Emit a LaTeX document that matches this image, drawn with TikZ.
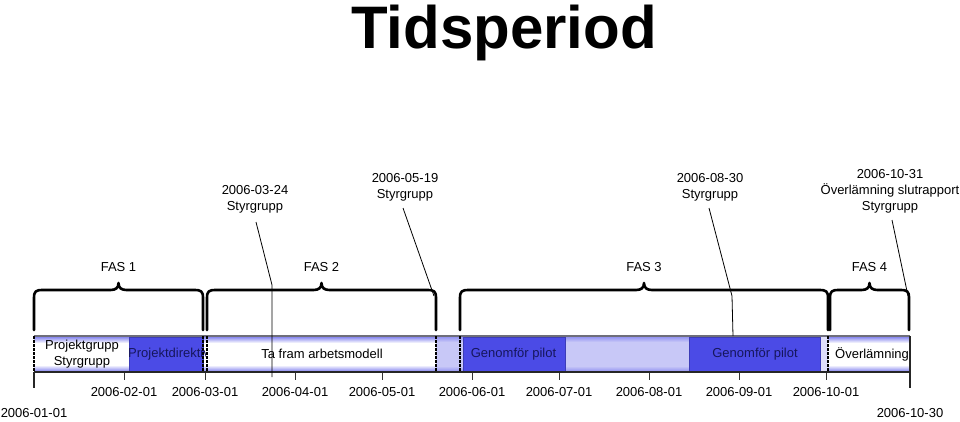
\documentclass[tikz,border=0pt]{standalone}
\usepackage{fontspec}
\setmainfont{Liberation Sans}
\definecolor{darkblk}{HTML}{4B4BE6}
\definecolor{lav}{HTML}{C8C8F7}
\definecolor{bandblue}{HTML}{8A8AF0}
\definecolor{navy}{HTML}{16165C}
\definecolor{barline}{HTML}{6E6E7A}
\newcommand\fasbrace[4]{%
  \pgfmathsetmacro\xm{(#1+#2)/2}%
  \draw[bracestyle] (#1,330) -- (#1,298) .. controls (#1,291) and ({#1+2},290) .. ({#1+9},290)
    -- ({\xm-8},290) .. controls ({\xm-3},290) and (\xm,288) .. (\xm,283)
    .. controls (\xm,288) and ({\xm+3},290) .. ({\xm+8},290)
    -- ({#2-9},290) .. controls ({#2-2},290) and (#2,291) .. (#2,298) -- (#2,330);
  \node[lbl] (#3) at (\xm,267) {#4};}
\begin{document}
\begin{tikzpicture}[x=1pt,y=-1pt,font=\fontsize{13}{16}\selectfont,
  lbl/.style={inner sep=0pt,align=center},
  bracestyle/.style={line width=2.6pt,line cap=round,line join=round},
  tickm/.style={line width=0.8pt,black!80},
  endtick/.style={line width=1.3pt,black!85},
  divline/.style={line width=1.1pt,dash pattern=on 2.5pt off 1.5pt},
  callout/.style={line width=0.8pt},
  blk/.style={fill=darkblk,draw=darkblk!80!black,line width=0.4pt},
  blktext/.style={lbl,text=navy}]
\useasboundingbox (0,0) rectangle (960,421);

% title
\node[inner sep=0pt,anchor=base,font=\fontsize{60}{60}\selectfont\bfseries] (title) at (504,48) {Tidsperiod};

% bar background
\fill[white] (34,336) rectangle (910,372);
\shade[top color=bandblue,bottom color=white] (34,337) rectangle (910,343);
\shade[top color=white,bottom color=bandblue] (34,365) rectangle (910,371);
\fill[lav] (436,336) rectangle (828,372);
\shade[top color=bandblue!80!lav,bottom color=lav] (436,337) rectangle (828,342);
\shade[top color=lav,bottom color=bandblue!80!lav] (436,366) rectangle (828,371);
\fill[lav!60!white] (820,337) rectangle (828,371);

% dark blocks
\draw[blk] (129,337) rectangle (203,371);
\draw[blk] (463,337) rectangle (565,371);
\draw[blk] (689,337) rectangle (820,371);

% bar outlines
\draw[barline,line width=1.1pt] (34,336) -- (910,336);
\draw[black!85,line width=1.1pt] (34,372) -- (910,372);

% dividers
\foreach \xx in {34,203,207,436,460,828}
  \draw[divline] (\xx,336) -- (\xx,372);

% bar texts
\node[lbl] (pg) at (82,354) {Projektgrupp\\Styrgrupp};
\begin{scope}
  \clip (129,336) rectangle (205.5,372);
  \node[blktext,anchor=west] (pd) at (128,354) {Projektdirektiv};
\end{scope}
\node[lbl] (ta) at (322,354) {Ta fram arbetsmodell};
\node[blktext] (gp1) at (513.5,354) {Genomför pilot};
\node[blktext] (gp2) at (755,354) {Genomför pilot};
\node[lbl] (ov) at (872,354) {Överlämning};

% ticks
\foreach \xx in {124,205,295,382,472,559,649,739,826}
  \draw[tickm] (\xx,373) -- (\xx,380);
\draw[endtick] (34,372) -- (34,388);
\draw[endtick] (910,336) -- (910,388);

% tick labels
\node[lbl] (d02) at (124,392) {2006-02-01};
\node[lbl] (d03) at (205,392) {2006-03-01};
\node[lbl] (d04) at (295,392) {2006-04-01};
\node[lbl] (d05) at (382,392) {2006-05-01};
\node[lbl] (d06) at (472,392) {2006-06-01};
\node[lbl] (d07) at (559,392) {2006-07-01};
\node[lbl] (d08) at (649,392) {2006-08-01};
\node[lbl] (d09) at (739,392) {2006-09-01};
\node[lbl] (d10) at (826,392) {2006-10-01};
\node[lbl] (d01) at (34,413) {2006-01-01};
\node[lbl] (d30) at (910,413) {2006-10-30};

% braces
\fasbrace{34}{203}{fas1}{FAS 1}
\fasbrace{207}{436}{fas2}{FAS 2}
\fasbrace{460}{828}{fas3}{FAS 3}
\fasbrace{830}{909}{fas4}{FAS 4}

% callouts
\node[lbl] (cA) at (255,199) {2006-03-24\\Styrgrupp};
\node[lbl] (cB) at (405,187) {2006-05-19\\Styrgrupp};
\node[lbl] (cC) at (710,187) {2006-08-30\\Styrgrupp};
\node[lbl] (cD) at (890,191) {2006-10-31\\Överlämning slutrapport\\Styrgrupp};
\coordinate (cAs) at (256,222);
\coordinate (cAk) at (272,285);
\coordinate (cAe) at (272,377);
\coordinate (cBs) at (403,208);
\coordinate (cBe) at (434,296);
\coordinate (cCs) at (709,208);
\coordinate (cCk) at (732,296);
\coordinate (cCe) at (733,336);
\coordinate (cDs) at (892,220);
\coordinate (cDe) at (908,296);
\draw[callout] (cAs) -- (cAk) -- (cAe);
\draw[callout] (cBs) -- (cBe);
\draw[callout] (cCs) -- (cCk) -- (cCe);
\draw[callout] (cDs) -- (cDe);
\end{tikzpicture}
\end{document}
